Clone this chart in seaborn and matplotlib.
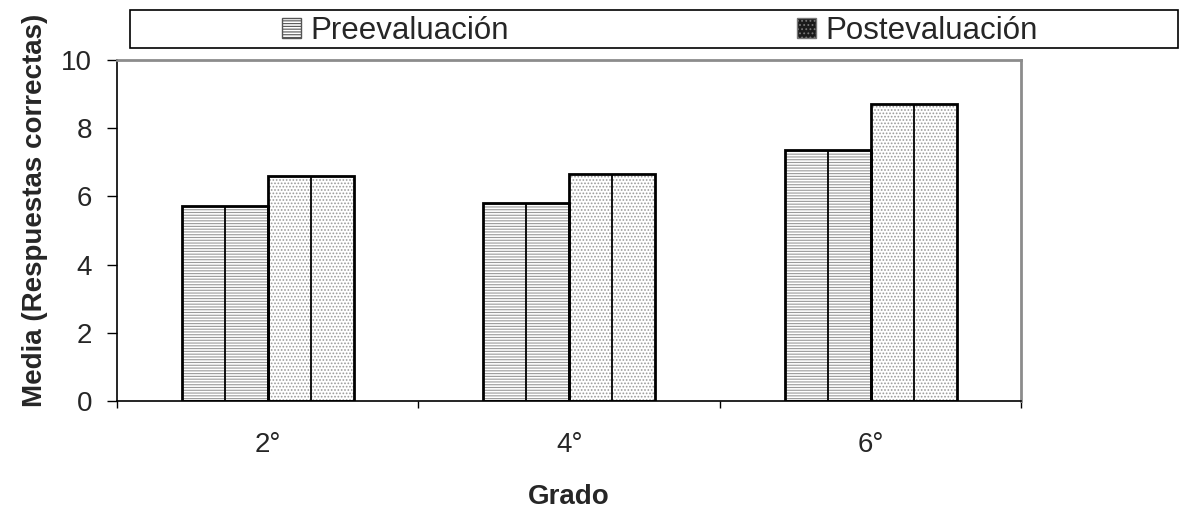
import pandas as pd
import matplotlib
matplotlib.use("Agg")
import matplotlib.pyplot as plt
from matplotlib.patches import Rectangle, Patch
import seaborn as sns

# datos
grados = ["2°", "4°", "6°"]
series = ["Preevaluación", "Postevaluación"]
pre = [5.72, 5.82, 7.35]
post = [6.6, 6.65, 8.72]

df = pd.DataFrame({
    "Grado": grados * 2,
    "Evaluación": [series[0]] * 3 + [series[1]] * 3,
    "Media": pre + post,
})

sns.set_style("white")
plt.rcParams["font.family"] = ["Liberation Sans", "DejaVu Sans"]
plt.rcParams["hatch.linewidth"] = 0.8

fig = plt.figure(figsize=(11.85, 5.12), dpi=100)
ax = fig.add_axes([0.0987, 0.2168, 0.7633, 0.666])

sns.barplot(data=df, x="Grado", y="Media", hue="Evaluación", order=grados,
            hue_order=series, palette=["white", "white"], width=0.57,
            gap=0, ax=ax, legend=False, errorbar=None)

hatches = {series[0]: "------", series[1]: "....."}
n = len(grados)
for i, p in enumerate(ax.patches[:2 * n]):
    s = series[i // n]
    p.set_hatch(hatches[s])
    p.set_edgecolor("#9a9a9a")
    p.set_linewidth(0)
    x, w, h = p.get_x(), p.get_width(), p.get_height()
    ax.add_patch(Rectangle((x, 0), w, h, fill=False, edgecolor="black", lw=2, zorder=3))
    ax.vlines(x + w / 2, 0, h, color="black", lw=1.3, zorder=3)

ax.set_xlim(-0.5, 2.5)
ax.set_ylim(0, 10)
ax.set_yticks(range(0, 11, 2))
ax.set_xticks([-0.5, 0.5, 1.5, 2.5])
ax.set_xticklabels([])
ax.set_xticks([0, 1, 2], minor=True)
ax.set_xticklabels(grados, minor=True)
ax.tick_params(axis="x", which="major", direction="out", length=5, width=1, color="black", bottom=True)
ax.tick_params(axis="x", which="minor", length=0, pad=22, labelsize=20)
ax.tick_params(axis="y", direction="out", length=7, width=1, color="black", left=True, labelsize=20, pad=11)

for side in ["top", "right"]:
    ax.spines[side].set_color("#8c8c8c")
    ax.spines[side].set_linewidth(2)
for side in ["left", "bottom"]:
    ax.spines[side].set_color("black")
    ax.spines[side].set_linewidth(1.2)

ax.set_xlabel("Grado", fontsize=20, fontweight="bold")
ax.set_ylabel("Media (Respuestas correctas)", fontsize=20, fontweight="bold")
ax.xaxis.set_label_coords(0.5, -0.2435)
ax.yaxis.set_label_coords(-0.0764, 0.56)

# caja de leyenda
fig.patches.append(Rectangle((130 / 1185, 1 - 48 / 512), 1048 / 1185, 38 / 512,
                             transform=fig.transFigure, fill=False, edgecolor="black", lw=1.2))
handles = [
    Patch(facecolor="white", edgecolor="#555555", hatch="------", lw=1),
    Patch(facecolor="#1a1a1a", edgecolor="#777777", hatch="....", lw=1),
]
fig.legend(handles, series, loc="center left", bbox_to_anchor=(282 / 1185, 1 - 31 / 512),
           ncol=2, frameon=False, fontsize=22.5, handlelength=0.62, handleheight=0.62,
           handletextpad=0.3, columnspacing=9.2, borderpad=0, borderaxespad=0)

fig.savefig("out.png", dpi=100)
